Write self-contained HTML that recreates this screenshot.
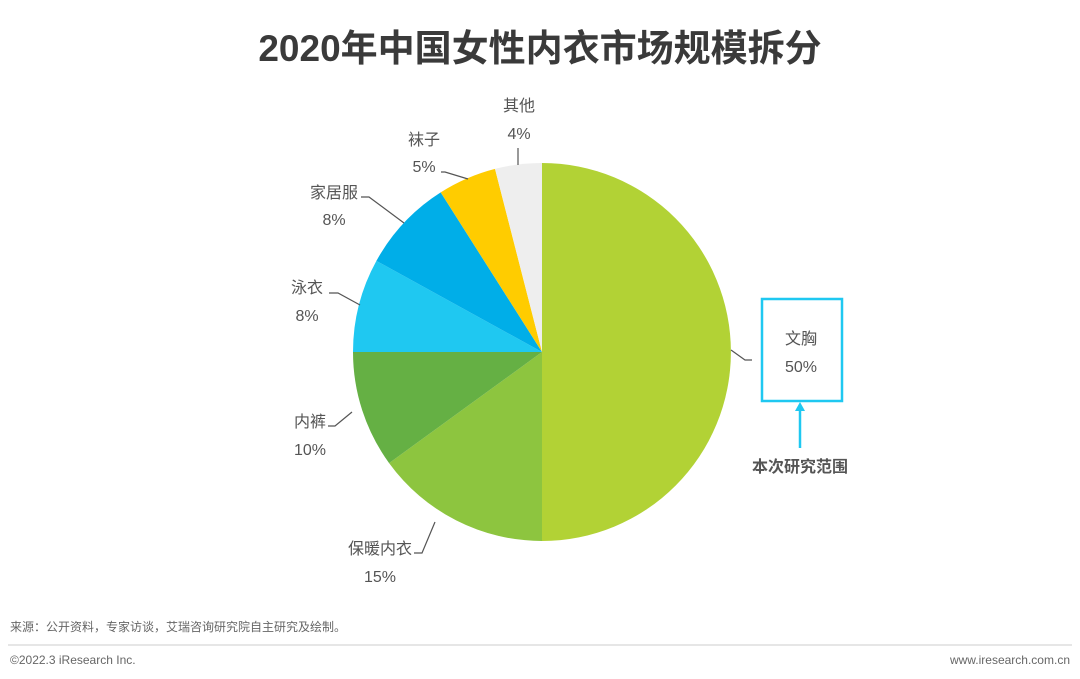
<!DOCTYPE html>
<html><head><meta charset="utf-8"><style>
body{margin:0;background:#fff;}
svg{display:block;font-family:"Liberation Sans","Noto Sans CJK SC",sans-serif;}
</style></head><body>
<svg width="1080" height="679" viewBox="0 0 1080 679">
<text x="540" y="61" text-anchor="middle" font-size="37" font-weight="bold" fill="#3a3a3a">2020年中国女性内衣市场规模拆分</text>
<g stroke="none">
<path d="M542,352 L542,163 A189,189 0 0 1 542,541 Z" fill="#b2d235"/>
<path d="M542,352 L542,541 A189,189 0 0 1 389.1,463.1 Z" fill="#8dc53f"/>
<path d="M542,352 L389.1,463.1 A189,189 0 0 1 353,352 Z" fill="#65b044"/>
<path d="M542,352 L353,352 A189,189 0 0 1 376.4,260.9 Z" fill="#1fc8f1"/>
<path d="M542,352 L376.4,260.9 A189,189 0 0 1 440.7,192.4 Z" fill="#00aee8"/>
<path d="M542,352 L440.7,192.4 A189,189 0 0 1 495,168.9 Z" fill="#ffcc00"/>
<path d="M542,352 L495,168.9 A189,189 0 0 1 542,163 Z" fill="#eeeeee"/>
</g>
<g stroke="#555" stroke-width="1.2" fill="none">
<polyline points="518,148 518,165"/>
<polyline points="441,172 445,172 468,179"/>
<polyline points="361,197 369,197 404,223"/>
<polyline points="329,293 338,293 360,305"/>
<polyline points="328,426 335,426 352,412"/>
<polyline points="414,553 422,553 435,522"/>
<polyline points="731,350 745,360 752,360"/>
</g>
<g font-size="16" fill="#555" text-anchor="middle">
<text x="519" y="111">其他</text><text x="519" y="139">4%</text>
<text x="424" y="145">袜子</text><text x="424" y="172">5%</text>
<text x="334" y="198">家居服</text><text x="334" y="225">8%</text>
<text x="307" y="293">泳衣</text><text x="307" y="321">8%</text>
<text x="310" y="427">内裤</text><text x="310" y="455">10%</text>
<text x="380" y="554">保暖内衣</text><text x="380" y="582">15%</text>
<text x="801" y="344">文胸</text><text x="801" y="372">50%</text>
</g>
<rect x="762" y="299" width="80" height="102" fill="none" stroke="#1fc8f1" stroke-width="2.5"/>
<line x1="800" y1="410" x2="800" y2="448" stroke="#1fc8f1" stroke-width="2.5"/>
<polygon points="800,402 795,411 805,411" fill="#1fc8f1"/>
<text x="800" y="472" text-anchor="middle" font-size="16" font-weight="bold" fill="#555">本次研究范围</text>
<text x="10" y="631" font-size="12" fill="#666">来源：公开资料，专家访谈，艾瑞咨询研究院自主研究及绘制。</text>
<line x1="8" y1="645" x2="1072" y2="645" stroke="#ccc" stroke-width="1"/>
<text x="10" y="664" font-size="12" fill="#666">©2022.3 iResearch Inc.</text>
<text x="1070" y="664" font-size="12" fill="#666" text-anchor="end">www.iresearch.com.cn</text>
</svg>
</body></html>
